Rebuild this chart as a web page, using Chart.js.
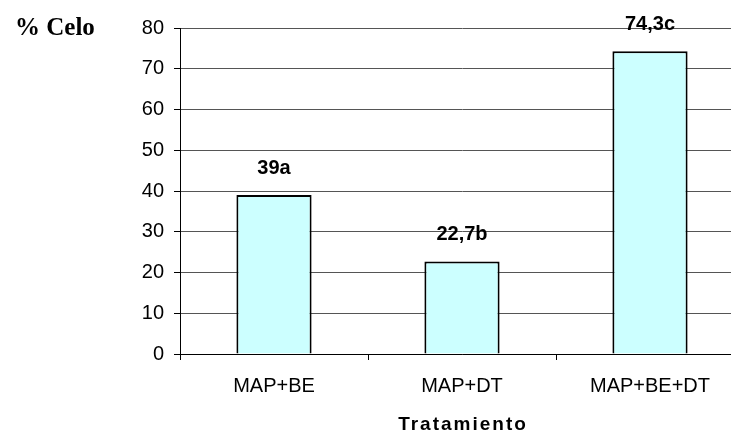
<!DOCTYPE html>
<html>
<head>
<meta charset="utf-8">
<script src="https://cdn.jsdelivr.net/npm/chart.js@4.4.1/dist/chart.umd.min.js"></script>
<style>
html,body{margin:0;padding:0;background:#fff;overflow:hidden;width:731px;height:434px;}
#wrap{position:relative;width:760px;height:434px;}
</style>
</head>
<body>
<div id="wrap"><canvas id="c"></canvas></div>
<script>
const categories = ['MAP+BE', 'MAP+DT', 'MAP+BE+DT'];
const celoValues = [39, 22.7, 74.3];
const barLabels = ['39a', '22,7b', '74,3c'];
const yTicks = [0, 10, 20, 30, 40, 50, 60, 70, 80];
const yTitle = '% Celo';
const xTitle = 'Tratamiento';

const labelPlugin = {
  id: 'labels',
  afterDatasetsDraw(chart) {
    const ctx = chart.ctx;
    const meta = chart.getDatasetMeta(0);
    ctx.save();
    ctx.font = 'bold 20px "Liberation Sans", Arial, sans-serif';
    ctx.fillStyle = '#000';
    ctx.textAlign = 'center';
    ctx.textBaseline = 'middle';
    meta.data.forEach((bar, i) => {
      ctx.fillText(barLabels[i], bar.x, bar.y - 27);
    });
    ctx.restore();
  },
  afterDraw(chart) {
    const ctx = chart.ctx;
    const a = chart.chartArea;
    ctx.save();
    ctx.fillStyle = '#000';
    ctx.textBaseline = 'middle';
    ctx.font = 'bold 25px "Liberation Serif", "Times New Roman", serif';
    ctx.textAlign = 'left';
    ctx.fillText(yTitle, a.left - 165, a.top + 1);
    ctx.font = 'bold 19px "Liberation Sans", Arial, sans-serif';
    ctx.textAlign = 'left';
    try { ctx.letterSpacing = '2px'; } catch (e) {}
    const w = ctx.measureText(xTitle).width - 2;
    ctx.fillText(xTitle, (a.left + a.right) / 2 - w / 2, a.bottom + 71);
    ctx.restore();
  }
};

new Chart(document.getElementById('c'), {
  type: 'bar',
  data: {
    labels: categories,
    datasets: [{
      data: celoValues,
      backgroundColor: '#CCFFFF',
      borderColor: '#000',
      borderWidth: 2,
      barPercentage: 0.8,
      categoryPercentage: 0.5
    }]
  },
  options: {
    responsive: true,
    maintainAspectRatio: false,
    animation: false,
    devicePixelRatio: 1,
    layout: { padding: { top: 28, right: 16, left: 0, bottom: 0 } },
    plugins: { legend: { display: false }, tooltip: { enabled: false } },
    scales: {
      x: {
        grid: { offset: true, drawOnChartArea: false, color: '#000', tickLength: 6, lineWidth: 1 },
        border: { color: '#000', width: 1 },
        ticks: { color: '#000', padding: 14, font: { family: '"Liberation Sans", Arial, sans-serif', size: 20 }, maxRotation: 0 },
        afterFit(s) { s.height = 80; }
      },
      y: {
        min: 0, max: 80,
        afterBuildTicks(s) { s.ticks = yTicks.map(v => ({ value: v })); },
        grid: { color: '#555', tickColor: '#000', tickLength: 6, lineWidth: 1 },
        border: { color: '#000', width: 1 },
        ticks: { color: '#000', padding: 10, font: { family: '"Liberation Sans", Arial, sans-serif', size: 20 } },
        afterFit(s) { s.width = 180; }
      }
    }
  },
  plugins: [labelPlugin]
});
</script>
</body>
</html>
